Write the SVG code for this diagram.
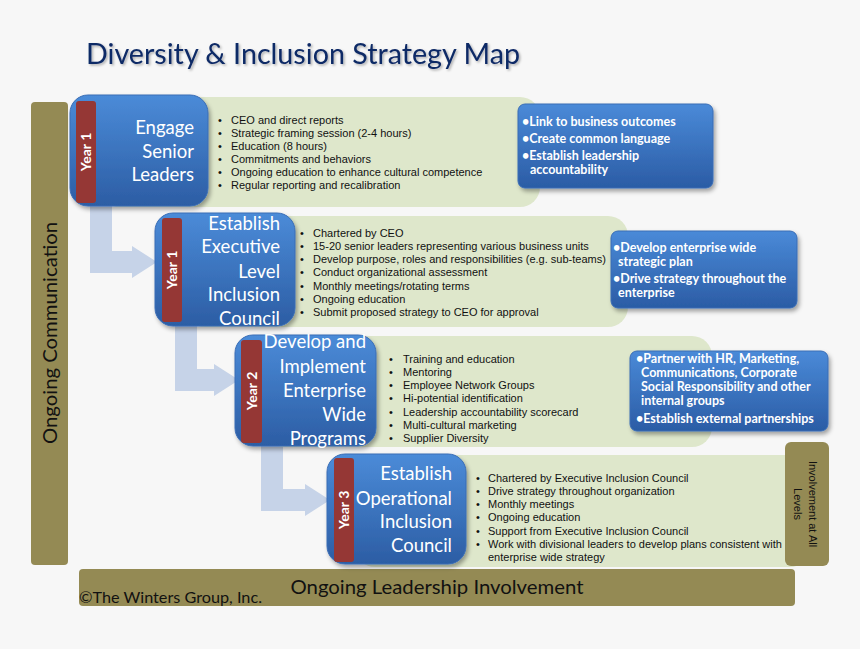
<svg xmlns="http://www.w3.org/2000/svg" width="860" height="649" viewBox="0 0 860 649">
<defs>
<linearGradient id="gBlue" x1="0" y1="0" x2="0" y2="1">
<stop offset="0" stop-color="#4b8bd8"/>
<stop offset="1" stop-color="#2c5da4"/>
</linearGradient>
<linearGradient id="gBlue2" x1="0" y1="0" x2="0" y2="1">
<stop offset="0" stop-color="#4a8ad8"/>
<stop offset="1" stop-color="#2b5ca5"/>
</linearGradient>
<filter id="sh" x="-10%" y="-10%" width="125%" height="130%">
<feDropShadow dx="2" dy="3" stdDeviation="2" flood-color="#000" flood-opacity="0.35"/>
</filter>
<filter id="tsh" x="-5%" y="-20%" width="110%" height="150%">
<feDropShadow dx="1.5" dy="1.5" stdDeviation="1.2" flood-color="#000" flood-opacity="0.3"/>
</filter>
</defs>
<style>
.olive{fill:#948a54}
.band{fill:#dee7cb}
.box{fill:url(#gBlue);stroke:#3a6db5;stroke-width:1;filter:url(#sh)}
.rbox{fill:url(#gBlue2);stroke:#3a6db5;stroke-width:1;filter:url(#sh)}
.tab{fill:#953735}
.arrow{fill:#c6d3e8}
.year{font-family:Lato,"Open Sans",sans-serif;font-weight:bold;font-size:14px;fill:#fff;text-anchor:middle}
.ttl{font-family:Lato,"Open Sans",sans-serif;font-size:18.5px;fill:#fff;text-anchor:end}
.bl{font-family:"Liberation Sans",Arial,sans-serif;font-size:11px;fill:#111}
.rt{font-family:Lato,"Open Sans",sans-serif;font-size:12.5px;font-weight:bold;fill:#fff}
.big{font-family:Lato,"Open Sans",sans-serif;font-size:20px;fill:#111}
</style>
<rect width="860" height="649" fill="#f7f7f7"/>
<text x="86" y="64" font-family="Lato,'Open Sans',sans-serif" font-size="29" fill="#102a66" textLength="434" lengthAdjust="spacingAndGlyphs" filter="url(#tsh)">Diversity &amp; Inclusion Strategy Map</text>

<g id="ongoing-communication">
<rect class="olive" x="31" y="102" width="37" height="463" rx="4"/>
<text class="big" transform="translate(57,333) rotate(-90)" text-anchor="middle" textLength="222" lengthAdjust="spacingAndGlyphs">Ongoing Communication</text>
</g>
<g id="ongoing-leadership">
<rect class="olive" x="79" y="569" width="716" height="37" rx="4"/>
<text class="big" x="437" y="594" text-anchor="middle" textLength="293" lengthAdjust="spacingAndGlyphs">Ongoing Leadership Involvement</text>
<text x="79" y="603" font-family="Lato,'Open Sans',sans-serif" font-size="15.5" fill="#111" textLength="183" lengthAdjust="spacingAndGlyphs">©The Winters Group, Inc.</text>
</g>

<g id="connectors">
<path class="arrow" d="M90,200 H112 V251 H132 V246 L157,262 L132,278 V273 H90 Z"/>
<path class="arrow" d="M175,320 H197 V369 H214 V364 L239,380 L214,396 V391 H175 Z"/>
<path class="arrow" d="M261,440 H283 V489 H305 V484 L330,500 L305,516 V511 H261 Z"/>
</g>

<g id="stage1">
<rect class="band" x="100" y="97" width="440" height="110" rx="20"/>
<rect class="box" x="70" y="95" width="138" height="111" rx="18"/>
<rect class="tab" x="76" y="101" width="20" height="102" rx="3"/>
<text class="year" transform="translate(91,152) rotate(-90)">Year 1</text>
<text class="ttl" x="194" y="134">Engage</text>
<text class="ttl" x="194" y="158">Senior</text>
<text class="ttl" x="194" y="181">Leaders</text>
<g class="bl">
<text x="218" y="123.5">•</text><text x="231" y="123.5">CEO and direct reports</text>
<text x="218" y="136.6">•</text><text x="231" y="136.6">Strategic framing session (2-4 hours)</text>
<text x="218" y="149.7">•</text><text x="231" y="149.7">Education (8 hours)</text>
<text x="218" y="162.8">•</text><text x="231" y="162.8">Commitments  and behaviors</text>
<text x="218" y="175.9">•</text><text x="231" y="175.9">Ongoing education to enhance cultural competence</text>
<text x="218" y="189">•</text><text x="231" y="189">Regular reporting and recalibration</text>
</g>
</g>

<g id="outcome1">
<rect class="rbox" x="518" y="104" width="195" height="84" rx="7"/>
<g class="rt">
<text x="522" y="126">•Link to business outcomes</text>
<text x="522" y="143">•Create common language</text>
<text x="522" y="160">•Establish leadership</text>
<text x="530" y="174">accountability</text>
</g>
</g>

<g id="stage2">
<rect class="band" x="185" y="216" width="443" height="111" rx="20"/>
<rect class="box" x="155" y="213" width="140" height="113" rx="18"/>
<rect class="tab" x="162" y="218" width="20" height="104" rx="3"/>
<text class="year" transform="translate(177,270) rotate(-90)">Year 1</text>
<text class="ttl" x="280" y="230">Establish</text>
<text class="ttl" x="280" y="253">Executive</text>
<text class="ttl" x="280" y="278">Level</text>
<text class="ttl" x="280" y="301">Inclusion</text>
<text class="ttl" x="280" y="325">Council</text>
<g class="bl">
<text x="300" y="236.7">•</text><text x="313" y="236.7">Chartered by CEO</text>
<text x="300" y="249.9">•</text><text x="313" y="249.9">15-20 senior leaders representing various business units</text>
<text x="300" y="263.1">•</text><text x="313" y="263.1">Develop purpose, roles and responsibilities (e.g. sub-teams)</text>
<text x="300" y="276.3">•</text><text x="313" y="276.3">Conduct organizational assessment</text>
<text x="300" y="289.5">•</text><text x="313" y="289.5">Monthly meetings/rotating terms</text>
<text x="300" y="302.7">•</text><text x="313" y="302.7">Ongoing education</text>
<text x="300" y="315.9">•</text><text x="313" y="315.9">Submit proposed strategy to CEO for approval</text>
</g>
</g>

<g id="outcome2">
<rect class="rbox" x="611" y="231" width="186" height="77" rx="7"/>
<g class="rt">
<text x="613" y="252">•Develop enterprise wide</text>
<text x="618" y="266">strategic plan</text>
<text x="613" y="283">•Drive strategy throughout the</text>
<text x="618" y="297">enterprise</text>
</g>
</g>

<g id="stage3">
<rect class="band" x="265" y="336" width="447" height="111" rx="20"/>
<rect class="box" x="235" y="335" width="141" height="111" rx="18"/>
<rect class="tab" x="241" y="340" width="21" height="103" rx="3"/>
<text class="year" transform="translate(256.5,391) rotate(-90)">Year 2</text>
<text class="ttl" x="366" y="348">Develop and</text>
<text class="ttl" x="366" y="373">Implement</text>
<text class="ttl" x="366" y="397">Enterprise</text>
<text class="ttl" x="366" y="421">Wide</text>
<text class="ttl" x="366" y="445">Programs</text>
<g class="bl">
<text x="389" y="362.7">•</text><text x="403" y="362.7">Training and education</text>
<text x="389" y="375.9">•</text><text x="403" y="375.9">Mentoring</text>
<text x="389" y="389.1">•</text><text x="403" y="389.1">Employee Network Groups</text>
<text x="389" y="402.3">•</text><text x="403" y="402.3">Hi-potential identification</text>
<text x="389" y="415.5">•</text><text x="403" y="415.5">Leadership accountability scorecard</text>
<text x="389" y="428.7">•</text><text x="403" y="428.7">Multi-cultural marketing</text>
<text x="389" y="441.9">•</text><text x="403" y="441.9">Supplier Diversity</text>
</g>
</g>

<g id="outcome3">
<rect class="rbox" x="630" y="351" width="198" height="80" rx="7"/>
<g class="rt">
<text x="636" y="363">•Partner with HR, Marketing,</text>
<text x="641" y="377">Communications, Corporate</text>
<text x="641" y="391">Social Responsibility and other</text>
<text x="641" y="405">internal groups</text>
<text x="636" y="423">•Establish external partnerships</text>
</g>
</g>

<g id="stage4">
<rect class="band" x="355" y="455" width="455" height="112" rx="20"/>
<rect class="box" x="327" y="454" width="139" height="110" rx="18"/>
<rect class="tab" x="334" y="458" width="20" height="104" rx="3"/>
<text class="year" transform="translate(349,510) rotate(-90)">Year 3</text>
<text class="ttl" x="452" y="480">Establish</text>
<text class="ttl" x="452" y="505">Operational</text>
<text class="ttl" x="452" y="528">Inclusion</text>
<text class="ttl" x="452" y="552">Council</text>
<g class="bl">
<text x="476" y="481.7">•</text><text x="488" y="481.7">Chartered by Executive Inclusion Council</text>
<text x="476" y="494.9">•</text><text x="488" y="494.9">Drive strategy throughout organization</text>
<text x="476" y="508.1">•</text><text x="488" y="508.1">Monthly meetings</text>
<text x="476" y="521.3">•</text><text x="488" y="521.3">Ongoing education</text>
<text x="476" y="534.5">•</text><text x="488" y="534.5">Support from Executive Inclusion Council</text>
<text x="476" y="547.7">•</text><text x="488" y="547.7">Work with divisional leaders to develop plans consistent with</text>
<text x="488" y="560.9">enterprise wide strategy</text>
</g>
</g>

<g id="involvement-all-levels">
<rect class="olive" x="785" y="442" width="44" height="124" rx="6"/>
<text class="bl" font-size="11" text-anchor="middle" transform="translate(809,504) rotate(90)">Involvement at All</text>
<text class="bl" font-size="11" text-anchor="middle" transform="translate(794,504) rotate(90)">Levels</text>
</g>
</svg>
